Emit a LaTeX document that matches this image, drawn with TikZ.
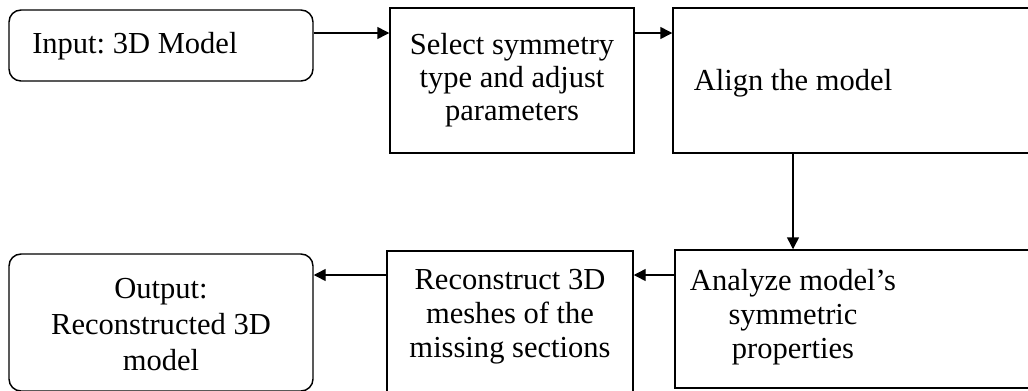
\documentclass[tikz,border=0pt]{standalone}
\usepackage{fontspec}
\setmainfont{Liberation Serif}
\frenchspacing
\usetikzlibrary{arrows.meta}
\begin{document}
\begin{tikzpicture}[x=0.75pt,y=-0.75pt,
  box/.style={draw=black,line width=1.1pt,minimum width=#1,inner sep=0pt},
  lbl/.style={font=\fontsize{22.9}{#1}\selectfont,align=center,inner sep=0pt,anchor=base},
  lbl/.default=25pt,
  arr/.style={draw=black,line width=1.1pt,-{Triangle[length=9pt,width=9pt]}}]
\useasboundingbox (0,0) rectangle (1028,390);
\clip (0,0) rectangle (1028,390);
% boxes
\node[box=228pt,minimum height=53.25pt,rounded corners=9pt] (inp) at (161,45.5) {};
\node[box=183pt,minimum height=108.75pt] (sel) at (512,80.5) {};
\node[box=357.75pt,minimum height=108.75pt] (aln) at (911.5,80.5) {};
\node[box=356.25pt,minimum height=103.5pt] (ana) at (912.5,319) {};
\node[box=184.5pt,minimum height=126.75pt] (rec) at (510,335.5) {};
\node[box=228pt,minimum height=102.75pt,rounded corners=9pt] (out) at (161,322.5) {};
% texts (anchored at the baseline of the last line)
\node[lbl,anchor=base west] (tinp) at (32,53) {Input: 3D Model};
\node[lbl=24.4pt] (tsel) at (512,120) {Select symmetry\\type and adjust\\parameters};
\node[lbl] (taln) at (793,90) {Align the model};
\node[lbl=25.5pt] (tana) at (793,358) {Analyze model’s\\symmetric\\properties};
\node[lbl=25.2pt] (trec) at (510,357) {Reconstruct 3D\\meshes of the\\missing sections};
\node[lbl=27pt] (tout) at (161,370) {Output:\\Reconstructed 3D\\model};
% connectors
\coordinate (r1) at (0,33);
\coordinate (r2) at (0,275);
\coordinate (c1) at (793,0);
\draw[arr] (inp.east |- r1) -- (sel.west |- r1);
\draw[arr] (sel.east |- r1) -- (aln.west |- r1);
\draw[arr] (aln.south -| c1) -- (ana.north -| c1);
\draw[arr] (ana.west |- r2) -- (rec.east |- r2);
\draw[arr] (rec.west |- r2) -- (out.east |- r2);
\end{tikzpicture}
\end{document}
